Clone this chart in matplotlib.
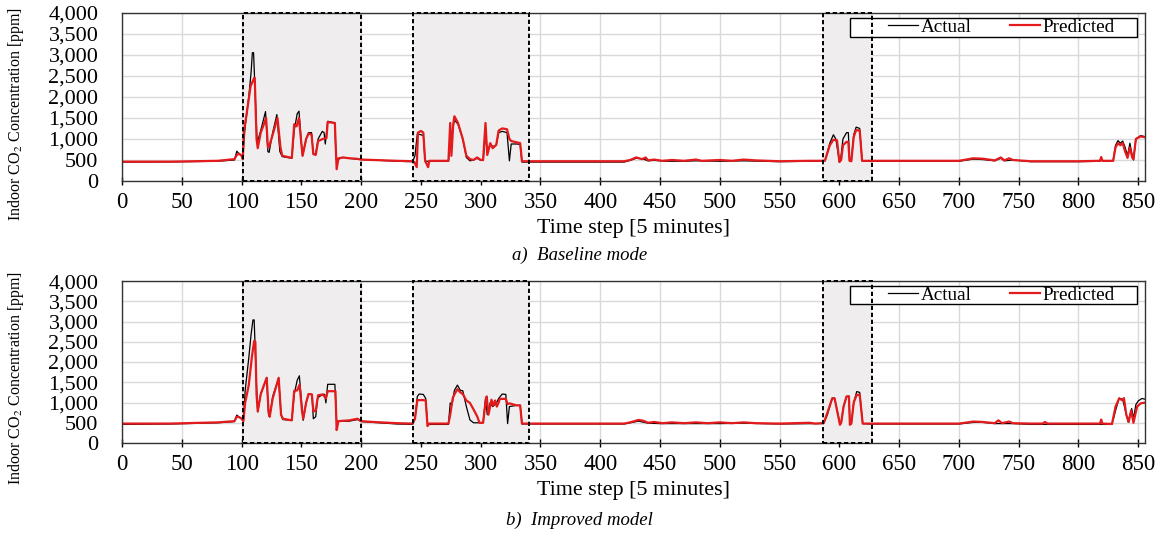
import matplotlib
matplotlib.use('Agg')
import matplotlib.pyplot as plt
from matplotlib import rcParams
from matplotlib.patches import Rectangle

config = {
    "font.family": ['Liberation Serif', 'DejaVu Serif'],
    "mathtext.fontset": 'stix',
}
rcParams.update(config)

# shaded occupancy windows (time step start, end)
windows = [(101, 200), (243, 340), (586, 627)]

x_ticks = list(range(0, 851, 50))
y_ticks = list(range(0, 4001, 500))

# a) Baseline mode  -- (time step, ppm)
a_actual = [(0, 450), (40, 455), (80, 470), (94, 500), (96, 710), (98, 640), (100, 600), (101, 580),
            (103, 1300), (106, 2000), (108, 2600), (109, 3050), (110, 3050), (112, 1600), (113, 900),
            (116, 1200), (120, 1650), (122, 700), (123, 680), (126, 1150), (129.5, 1580), (132, 700),
            (134, 580), (142, 540), (144, 1200), (146.5, 1600), (148, 1660), (150, 900), (151, 600),
            (154, 1000), (156, 1150), (158.5, 1150), (160, 640), (162, 650), (164, 1000), (167.5, 1180),
            (169, 1150), (170, 880), (172, 1420), (178, 1380), (179, 520), (181, 520), (185, 560),
            (190, 540), (196, 520), (200, 510), (210, 500), (230, 470), (243, 460), (245, 600),
            (247, 1120), (250, 1100), (252, 1080), (253.5, 470), (256, 470), (273, 470), (274.5, 900),
            (276, 1150), (278, 1450), (281, 1350), (285, 1000), (288, 560), (291, 480), (294, 500),
            (297, 540), (300, 490), (302, 490), (304, 1100), (305.5, 700), (308, 870), (310, 820),
            (313, 850), (315, 1150), (318, 1180), (322, 1150), (324, 480), (325.5, 880), (330, 880),
            (333, 870), (334.5, 450), (340, 450), (420, 450), (425, 490), (430, 540), (435, 530),
            (440, 480), (445, 490), (455, 470), (470, 470), (480, 480), (500, 470), (520, 480),
            (550, 460), (575, 470), (585, 470), (588, 480), (592, 900), (595, 1100), (597, 1000),
            (600, 480), (601, 500), (603, 1000), (606, 1150), (607.5, 1150), (608.5, 480), (610, 480),
            (612, 1100), (614, 1280), (617, 1250), (619, 480), (625, 470), (700, 470), (712, 520),
            (720, 510), (730, 480), (735, 540), (738, 480), (745, 500), (760, 460), (800, 460),
            (818, 470), (819, 560), (820, 470), (829, 480), (831, 850), (833, 960), (835, 900),
            (837, 950), (839, 800), (841, 600), (843, 900), (845, 600), (846, 500), (848, 1000),
            (852, 1080), (856, 1050)]

a_predicted = [(0, 460), (40, 460), (80, 480), (94, 520), (96, 620), (98, 650), (100, 600), (101, 520),
               (102, 1200), (104, 1550), (107.5, 2250), (110.5, 2450), (111, 2450), (112.5, 1000),
               (113.5, 780), (116, 1150), (118, 1300), (120.5, 1500), (122, 800), (123, 820), (126, 1100),
               (130, 1500), (132.5, 800), (134, 600), (142, 550), (144, 1350), (146, 1300), (148, 1500),
               (150, 880), (151, 600), (154, 1000), (156, 1130), (158.5, 1100), (160, 640), (162, 620),
               (164, 950), (168, 1000), (171, 1020), (172, 1400), (178, 1380), (179.5, 280), (181, 540),
               (185, 560), (190, 540), (196, 530), (200, 510), (210, 500), (230, 480), (243, 470),
               (244.5, 450), (246.5, 330), (247.5, 1150), (250, 1190), (252, 1150), (253.5, 480),
               (256, 330), (257, 480), (273, 480), (274.5, 1380), (275.5, 600), (277, 1350), (278, 1540),
               (281, 1380), (285, 1000), (288, 600), (291, 520), (294, 500), (297, 560), (300, 500),
               (302, 500), (304, 1380), (305.5, 620), (308, 900), (310, 780), (313, 860), (315, 1200),
               (318, 1250), (322, 1230), (324, 1000), (325.5, 950), (330, 920), (333, 900), (334.5, 470),
               (340, 470), (420, 470), (425, 500), (430, 560), (435, 520), (438, 560), (440, 490),
               (445, 510), (452, 480), (460, 500), (470, 480), (480, 510), (485, 480), (500, 500),
               (510, 480), (520, 510), (530, 490), (550, 470), (575, 480), (585, 480), (588, 490),
               (592, 850), (595, 980), (598, 970), (600, 450), (601.5, 500), (603, 850), (606, 930),
               (607.5, 930), (608.5, 480), (610, 470), (612, 1050), (614, 1210), (617, 1200), (619, 480),
               (625, 480), (700, 480), (712, 540), (720, 530), (730, 490), (735, 560), (738, 490),
               (742, 540), (745, 500), (760, 470), (800, 470), (818, 480), (819, 570), (820, 480),
               (829, 480), (831, 800), (833, 900), (835, 850), (837, 900), (839, 700), (841, 550),
               (843, 800), (845, 550), (846, 520), (848, 1000), (852, 1060), (856, 1040)]

# b) Improved model
b_actual = [(0, 460), (40, 470), (80, 500), (94, 530), (96, 690), (98, 640), (100, 600), (101.5, 560),
            (103, 1300), (106, 2100), (108, 2700), (109.5, 3040), (110.5, 3040), (112.5, 1400),
            (113.5, 770), (116, 1200), (121, 1620), (122.5, 700), (123.5, 650), (126, 1150), (131, 1600),
            (133, 700), (134.5, 580), (142, 560), (144, 1200), (146.5, 1550), (148.3, 1660), (150.5, 900),
            (151.5, 560), (154, 1000), (156, 1210), (158.8, 1200), (160, 600), (162, 650), (163.6, 1120),
            (168, 1200), (169.5, 1200), (170.5, 990), (172, 1450), (178, 1450), (179.5, 520), (182, 540),
            (190, 540), (197, 580), (200, 530), (210, 510), (230, 470), (243, 460), (245, 600),
            (247, 1150), (248.5, 1210), (252, 1200), (254, 1100), (255.5, 460), (273, 460), (274.5, 990),
            (276, 950), (278, 1300), (280.5, 1430), (283, 1300), (285, 1290), (288, 900), (291, 570),
            (294, 500), (298, 500), (302, 500), (304, 1100), (305.5, 700), (308, 1000), (310, 900),
            (313, 980), (315, 1100), (318, 1210), (321, 1200), (322.5, 480), (324, 900), (330, 930),
            (333, 930), (334.5, 470), (340, 470), (420, 470), (425, 500), (432, 540), (440, 490),
            (450, 480), (470, 480), (500, 480), (520, 490), (550, 470), (580, 480), (585, 480),
            (587, 490), (590, 700), (594, 1110), (596, 1110), (600.5, 480), (601.5, 500), (603.5, 900),
            (606, 1150), (608, 1160), (608.8, 480), (610, 480), (612, 1000), (614.5, 1270), (617, 1250),
            (619.5, 480), (625, 470), (700, 470), (712, 510), (720, 510), (730, 480), (745, 480),
            (760, 460), (800, 460), (828, 460), (831, 800), (834, 1110), (837, 1080), (838, 950),
            (840, 700), (841.5, 520), (844.5, 850), (846, 600), (848, 950), (850, 1040), (853, 1100),
            (856, 1080)]

b_predicted = [(0, 480), (40, 480), (80, 510), (94, 540), (96, 650), (98, 640), (100, 600), (101.5, 540),
               (103, 1000), (106, 1430), (108.5, 2100), (110.5, 2520), (111.5, 2500), (112.5, 1200),
               (113.5, 780), (116, 1210), (121, 1610), (122.5, 800), (123.5, 650), (126, 1100),
               (131, 1610), (133, 700), (134.5, 600), (142, 560), (144, 1290), (146.5, 1300),
               (148.5, 1440), (150.5, 800), (151.5, 600), (154, 1000), (156, 1210), (158.8, 1200),
               (160, 780), (162, 800), (164, 1180), (168, 1200), (170.5, 1100), (172, 1280),
               (178.5, 1280), (179.5, 320), (181, 540), (190, 560), (197, 600), (200, 540), (210, 520),
               (230, 490), (243, 480), (245, 600), (247, 1060), (252, 1060), (254, 1050), (255.5, 420),
               (257, 480), (273, 480), (274.5, 700), (276.6, 1110), (278, 1200), (280.5, 1330),
               (283, 1250), (285, 1210), (288, 1050), (291, 990), (294, 830), (297, 660), (299, 500),
               (302, 500), (304, 1000), (305, 1150), (306.5, 700), (309, 1070), (310.5, 930), (312, 1050),
               (313.5, 900), (315, 1000), (316, 1090), (321, 1090), (322.5, 960), (324, 980), (330, 930),
               (333, 930), (334.5, 480), (340, 480), (420, 480), (425, 510), (432, 570), (436, 550),
               (440, 500), (445, 520), (452, 490), (460, 510), (470, 490), (480, 510), (490, 490),
               (500, 510), (510, 490), (520, 510), (530, 490), (550, 480), (575, 500), (580, 480),
               (585, 490), (587, 500), (590, 750), (594, 1100), (596, 1100), (600.5, 450), (601.5, 500),
               (603.5, 900), (606, 1150), (608, 1150), (608.8, 450), (610, 480), (612, 1000),
               (614.5, 1190), (617, 1190), (619.5, 480), (625, 480), (700, 480), (712, 530), (720, 520),
               (730, 490), (733, 560), (736, 490), (742, 530), (745, 490), (760, 480), (770, 480),
               (772, 520), (774, 480), (800, 480), (818, 480), (819, 580), (820, 480), (828, 470),
               (831, 900), (834, 1100), (837, 1050), (838, 1110), (840, 700), (842, 520), (844, 800),
               (846, 500), (849, 900), (852, 980), (856, 1000)]

panels = [(a_actual, a_predicted, "a)  Baseline mode", -0.44),
          (b_actual, b_predicted, "b)  Improved model", -0.48)]

fig = plt.figure(figsize=(11.59, 5.41), dpi=100)
ax_a = fig.add_axes([0.1053, 0.6654, 0.8830, 0.3111])
ax_b = fig.add_axes([0.1053, 0.1811, 0.8830, 0.2994])

for ax, (act, pred, caption, cap_y) in zip([ax_a, ax_b], panels):
    for x0, x1 in windows:
        # grey fill below the curves, dashed outline drawn on top
        ax.add_patch(Rectangle((x0, 0), x1 - x0, 4000, facecolor='#efedee',
                               edgecolor='none', zorder=1))
        ax.add_patch(Rectangle((x0, 0), x1 - x0, 4000, facecolor='none', edgecolor='black',
                               linestyle=(0, (2.2, 1.4)), linewidth=1.4, zorder=8, clip_on=False))
    t, v = zip(*act)
    ax.plot(t, v, color='black', linewidth=0.9, label='Actual', zorder=3)
    t, v = zip(*pred)
    ax.plot(t, v, color='#e41a1c', linewidth=1.6, label='Predicted', zorder=4)

    ax.set_xlim(0, 856)
    ax.set_ylim(0, 4000)
    ax.set_xticks(x_ticks)
    ax.set_yticks(y_ticks)
    ax.set_yticklabels([f"{y:,}" for y in y_ticks])
    ax.grid(color='#d9d9d9', linewidth=1.0, zorder=0)
    ax.set_axisbelow(True)
    ax.tick_params(axis='x', direction='inout', length=6, width=1, labelsize=16.5, pad=5)
    ax.tick_params(axis='y', length=0, labelsize=16, pad=17)
    for s in ax.spines.values():
        s.set_color('#333333')
        s.set_linewidth(1.0)
        s.set_zorder(5)
    ax.set_xlabel("Time step [5 minutes]", fontsize=15.8, labelpad=4)
    ax.set_ylabel("Indoor CO$_2$ Concentration [ppm]", fontsize=11.5)
    ax.yaxis.set_label_coords(-0.094, 0.4)
    ax.text(0.447, cap_y, caption, transform=ax.transAxes, fontsize=13.5,
            style='italic', ha='center', va='center')

    # legend frame (wider than the entries, as in the original)
    ax.add_patch(Rectangle((0.7116, 0.857), 0.2806, 0.113, transform=ax.transAxes,
                           facecolor='white', edgecolor='black', linewidth=1.0, zorder=6))
    leg = ax.legend(loc='center', ncol=2, fontsize=13.8, frameon=False,
                    borderpad=0.0, handlelength=1.6, handletextpad=0.1, columnspacing=2.0,
                    borderaxespad=0.0, bbox_to_anchor=(0.859, 0.9135))
    leg.set_zorder(7)

fig.savefig("out.png", dpi=100)
